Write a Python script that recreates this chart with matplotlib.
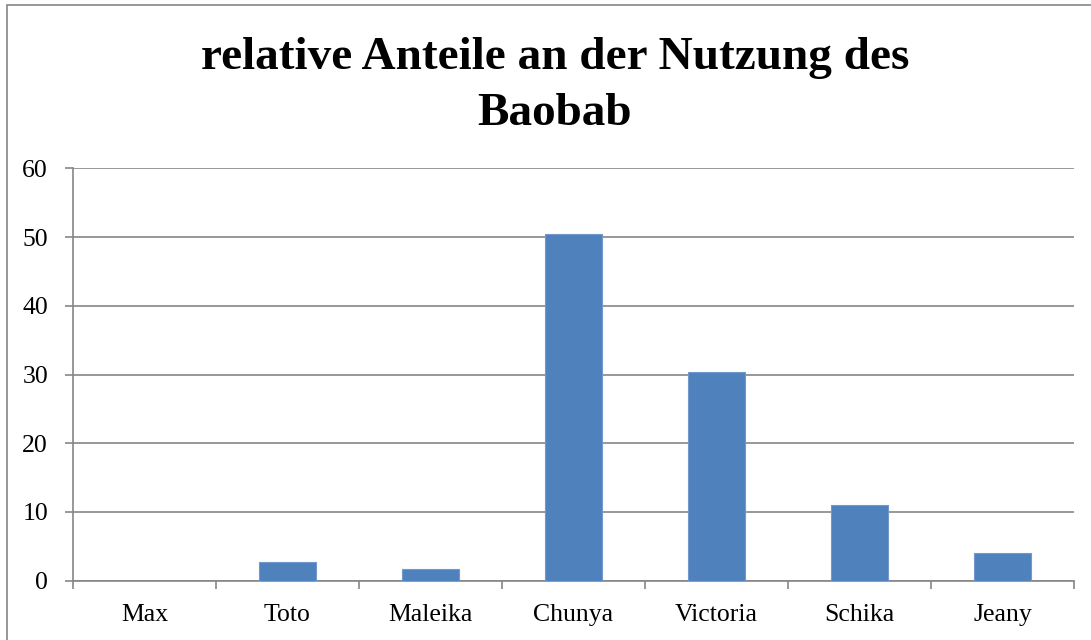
import matplotlib
matplotlib.use("Agg")
import matplotlib.pyplot as plt
from matplotlib.patches import Rectangle

categories = ["Max", "Toto", "Maleika", "Chunya", "Victoria", "Schika", "Jeany"]
values = [0, 2.7, 1.7, 50.4, 30.3, 11.0, 4.0]
yticks = [0, 10, 20, 30, 40, 50, 60]
title_lines = ["relative Anteile an der Nutzung des", "Baobab"]

plt.rcParams['font.family'] = ['Liberation Serif', 'DejaVu Serif']

fig = plt.figure(figsize=(10.91, 6.40), dpi=100)
fig.patches.append(Rectangle((7/1091, -0.01), 1.02, (640-4.5)/640 + 0.01,
                             transform=fig.transFigure, fill=False,
                             edgecolor='#868686', linewidth=1.2))

ax = fig.add_axes([73/1091, 1-580.7/640, (1074-73)/1091, (580.7-168.3)/640])
x = list(range(len(categories)))
ax.bar(x, values, width=0.4, color='#4F81BD', edgecolor='#7399cc', linewidth=0.8, zorder=3)
ax.set_xlim(-0.5, len(categories)-0.5)
ax.set_ylim(0, 60)
ax.set_yticks(yticks)
ax.set_yticklabels([str(t) for t in yticks], fontsize=18.5)
ax.set_xticks(x)
ax.set_xticklabels(categories, fontsize=18.5)
ax.tick_params(axis='x', length=0, pad=17)
ax.set_xticks([i + 0.5 for i in range(-1, len(categories))], minor=True)
ax.tick_params(axis='x', which='minor', length=6, color='#868686', width=1.2)
ax.tick_params(axis='y', length=6, color='#868686', width=1.2, pad=12)
ax.yaxis.grid(True, color='#868686', linewidth=1.2, zorder=0)
for s in ['top', 'right']:
    ax.spines[s].set_visible(False)
for s in ['left', 'bottom']:
    ax.spines[s].set_color('#868686')
    ax.spines[s].set_linewidth(1.2)

baselines = [69, 125]
for line, yb in zip(title_lines, baselines):
    fig.text(555/1091, 1-yb/640, line, ha='center', va='baseline', fontsize=34,
             fontweight='bold')

fig.savefig("out.png", dpi=100)
